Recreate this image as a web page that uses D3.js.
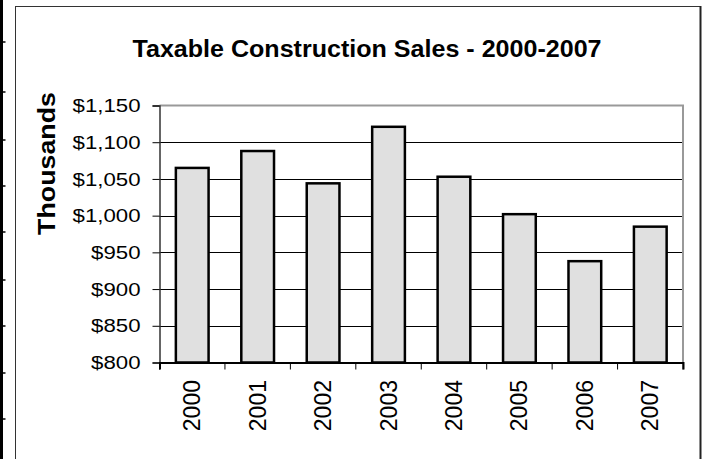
<!DOCTYPE html>
<html><head><meta charset="utf-8">
<script src="https://cdn.jsdelivr.net/npm/d3@7"></script>
<style>body{margin:0;background:#fff;} svg{display:block;} text{font-family:"Liberation Sans",Arial,sans-serif;}</style>
</head><body>
<svg id="c" width="705" height="459"></svg>
<script>
const years = ["2000","2001","2002","2003","2004","2005","2006","2007"];
const sales = [1065, 1088, 1044, 1121, 1053, 1002, 938, 985];
const yTicks = [800, 850, 900, 950, 1000, 1050, 1100, 1150];
const title = "Taxable Construction Sales - 2000-2007";
const yTitle = "Thousands";
const edgeMarks = [42, 92, 140, 186, 232, 280, 326, 373, 419];

const svg = d3.select("#c");
const m = {left:159.5, right:683, top:105.5, bottom:362.5};

// left page edge strip
svg.append("rect").attr("x",0).attr("y",0).attr("width",3).attr("height",459).attr("fill","#000");
svg.selectAll(".em").data(edgeMarks).enter().append("line")
  .attr("x1",3).attr("x2",5.5).attr("y1",d=>d).attr("y2",d=>d).attr("stroke","#000").attr("stroke-width",1.5);

// chart border
svg.append("line").attr("x1",15.5).attr("x2",15.5).attr("y1",6.5).attr("y2",470).attr("stroke","#333").attr("stroke-width",1);
svg.append("line").attr("x1",15).attr("x2",701).attr("y1",6.5).attr("y2",6.5).attr("stroke","#333").attr("stroke-width",1);
svg.append("line").attr("x1",700.5).attr("x2",700.5).attr("y1",6).attr("y2",470).attr("stroke","#222").attr("stroke-width",2);

const x = d3.scaleBand().domain(years).range([m.left, m.right]).paddingInner(0.5).paddingOuter(0.25);
const xb = d3.scaleBand().domain(years).range([m.left, m.right]);
const y = d3.scaleLinear().domain([800,1150]).range([m.bottom, m.top]);

// gridlines
svg.append("g").selectAll("line").data(yTicks.filter(t=>t>800 && t<1150)).enter().append("line")
  .attr("x1",m.left).attr("x2",m.right).attr("y1",d=>Math.round(y(d))+0.5).attr("y2",d=>Math.round(y(d))+0.5)
  .attr("stroke","#000").attr("stroke-width",1);

// plot frame top/right gray
svg.append("line").attr("x1",m.left).attr("x2",m.right+1).attr("y1",m.top).attr("y2",m.top).attr("stroke","#999").attr("stroke-width",2);
svg.append("line").attr("x1",m.right).attr("x2",m.right).attr("y1",m.top).attr("y2",m.bottom).attr("stroke","#999").attr("stroke-width",2);

// bars
svg.append("g").selectAll("rect").data(sales).enter().append("rect")
  .attr("x",(d,i)=>x(years[i])).attr("width",x.bandwidth())
  .attr("y",d=>y(d)).attr("height",d=>y(800)-y(d))
  .attr("fill","#e0e0e0").attr("stroke","#000").attr("stroke-width",2.5);

// y axis
const ya = d3.axisLeft(y).tickValues(yTicks).tickSize(7).tickPadding(12)
  .tickFormat(d=>"$"+d3.format(",")(d));
const gy = svg.append("g").attr("transform",`translate(${m.left},0)`).call(ya);
gy.select(".domain").attr("stroke","#333").attr("stroke-width",1.5);
gy.selectAll(".tick line").attr("stroke","#000");
gy.selectAll(".tick text").attr("font-size",19).attr("fill","#000");
gy.selectAll(".tick text").each(function(){
  const t=d3.select(this); const xx=+t.attr("x");
  t.attr("x",null).attr("transform",`translate(${xx},0) scale(1.17,1)`);
});

// x axis
const xa = d3.axisBottom(xb).tickSize(7).tickFormat("");
const gx = svg.append("g").attr("transform",`translate(0,${m.bottom})`).call(xa);
gx.select(".domain").attr("stroke","#000").attr("stroke-width",2);
gx.selectAll(".tick").remove();
gx.selectAll(".bt").data(years.concat(["end"])).enter().append("line")
  .attr("x1",(d,i)=> i<years.length ? xb(d) : m.right).attr("x2",(d,i)=> i<years.length ? xb(d) : m.right)
  .attr("y1",0).attr("y2",7).attr("stroke","#000").attr("stroke-width",1);
svg.append("g").selectAll("text").data(years).enter().append("text")
  .attr("transform",d=>`translate(${xb(d)+xb.bandwidth()/2+8},380) rotate(-90)`)
  .attr("text-anchor","end").attr("font-size",23).attr("fill","#000").text(d=>d);

// titles
svg.append("text").attr("text-anchor","middle")
  .attr("font-size",24).attr("font-weight","bold").attr("fill","#000")
  .attr("transform","translate(367,57) scale(1.045,1)").text(title);
svg.append("text").attr("transform","translate(55,163.5) rotate(-90) scale(1.14,1)").attr("text-anchor","middle")
  .attr("font-size",23.5).attr("font-weight","bold").attr("fill","#000").text(yTitle);
</script>
</body></html>
